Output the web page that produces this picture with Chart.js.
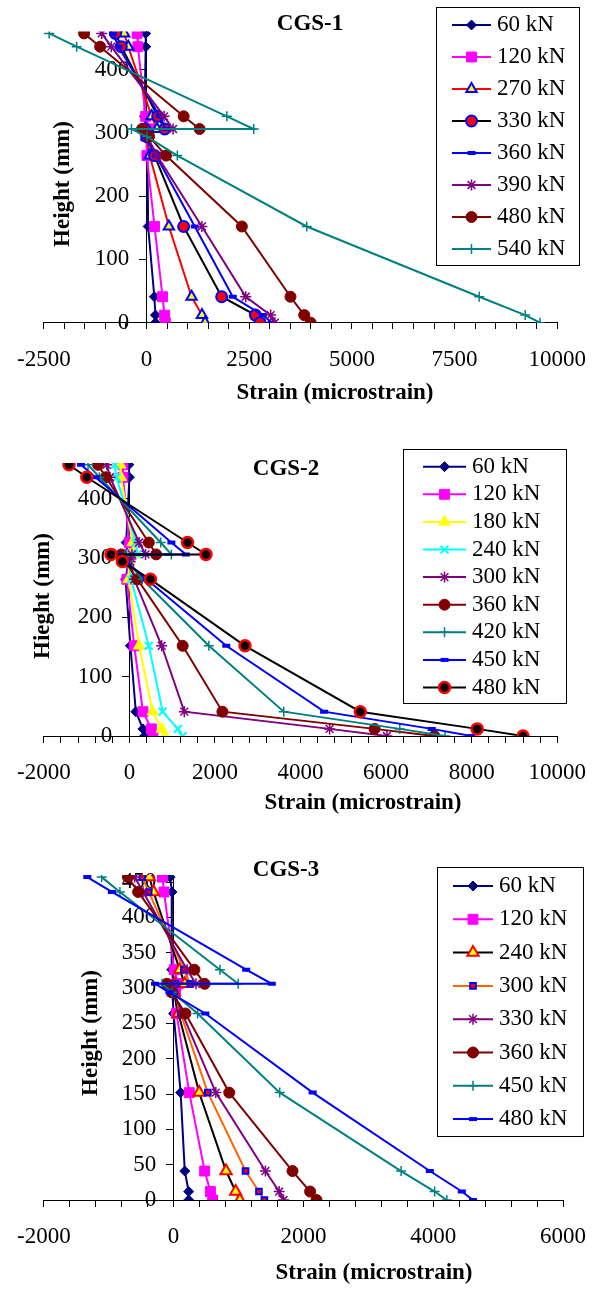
<!DOCTYPE html>
<html>
<head>
<meta charset="utf-8">
<title>CGS strain profiles</title>
<script src="https://cdn.jsdelivr.net/npm/chart.js@4.4.1/dist/chart.umd.min.js"></script>
<style>
  html, body { margin: 0; padding: 0; background: #fff; }
  body { position: relative; width: 603px; height: 1289px; overflow: hidden; }
  canvas { position: absolute; left: 0; }
</style>
</head>
<body>
<canvas id="cgs1" width="603" height="420" style="top:0px"></canvas>
<canvas id="cgs2" width="603" height="420" style="top:425px"></canvas>
<canvas id="cgs3" width="603" height="439" style="top:850px"></canvas>
<script>
// gauge heights (mm) in the order the points are joined
const heights = [457, 436, 326, 306, 306, 294, 264, 152, 41, 12, 0];
const yTicks12 = [0, 100, 200, 300, 400];
const yTicks3 = [0, 50, 100, 150, 200, 250, 300, 350, 400, 450];

// CGS-1
const loads1 = ['60 kN', '120 kN', '270 kN', '330 kN', '360 kN', '390 kN', '480 kN', '540 kN'];
const c1_60  = [-20, -20, -50, 0, 0, 0, 20, 40, 190, 218, 218];
const c1_120 = [-230, -210, -20, 60, 10, 0, 10, 195, 390, 440, 460];
const c1_270 = [-545, -444, 125, 257, -20, 0, 78, 545, 1098, 1350, 1425];
const c1_330 = [-755, -615, 273, 444, -40, 10, 195, 904, 1830, 2650, 2765];
const c1_360 = [-818, -680, 320, 470, -60, -50, 230, 1176, 2100, 2830, 3050];
const c1_390 = [-1090, -857, 428, 646, -30, 20, 257, 1348, 2415, 3022, 3124];
const c1_480 = [-1519, -1130, 904, 1293, -109, 62, 475, 2321, 3505, 3840, 3996];
const c1_540 = [-2370, -1700, 1955, 2610, -366, 8, 750, 3900, 8100, 9220, 9580];
const xLabels1 = [-2500, 0, 2500, 5000, 7500, 10000];

// CGS-2
const loads2 = ['60 kN', '120 kN', '180 kN', '240 kN', '300 kN', '360 kN', '420 kN', '450 kN', '480 kN'];
const c2_60  = [-15, 0, -75, -40, -30, -20, -90, 23, 150, 317, 355];
const c2_120 = [-150, -150, 0, 40, 0, -10, -60, 113, 317, 513, 551];
const c2_180 = [-211, -200, 75, 110, 20, 0, -20, 226, 543, 755, 830];
const c2_240 = [-340, -302, 150, 189, 40, 10, 40, 453, 777, 1132, 1245];
const c2_300 = [-528, -453, 226, 377, 60, 20, 113, 755, 1283, 4680, 6018];
const c2_360 = [-732, -551, 453, 626, -189, -100, 189, 1245, 2174, 5731, 7127];
const c2_420 = [-966, -700, 732, 981, -100, -40, 302, 1857, 3608, 6320, 7376];
const c2_450 = [-1131, -792, 981, 1321, -250, -80, 400, 2264, 4551, 7066, 7994];
const c2_480 = [-1411, -996, 1358, 1789, -430, -166, 490, 2702, 5396, 8130, 9200];
const xLabels2 = [-2000, 0, 2000, 4000, 6000, 8000, 10000];

// CGS-3
const loads3 = ['60 kN', '120 kN', '240 kN', '300 kN', '330 kN', '360 kN', '450 kN', '480 kN'];
const c3_60  = [-54, -25, -30, 0, -10, -20, 0, 108, 172, 232, 232];
const c3_120 = [-172, -148, 10, 69, 40, 30, 44, 241, 478, 567, 601];
const c3_240 = [-374, -310, 94, 172, 20, 0, 74, 394, 808, 956, 1020];
const c3_300 = [-483, -384, 158, 256, 30, 10, 108, 527, 1108, 1315, 1399];
const c3_330 = [-600, -470, 207, 345, 0, 0, 133, 650, 1414, 1626, 1694];
const c3_360 = [-704, -547, 320, 478, -103, -30, 182, 857, 1832, 2103, 2202];
const c3_450 = [-1108, -828, 714, 995, -177, -25, 369, 1635, 3505, 4022, 4210];
const c3_480 = [-1330, -951, 1118, 1512, -286, -64, 488, 2143, 3948, 4441, 4613];
const xLabels3 = [-2000, 0, 2000, 4000, 6000];

// marker / line styles
const navyDiamond = {line: '#000080', marker: 'rectRot', r: 5, fill: '#000080', edge: '#000080', bw: 1};
const pinkSquare  = {line: '#FF00FF', marker: 'rect', r: 7, fill: '#FF00FF', edge: '#FF00FF', bw: 1};
const redTriangle = {line: '#FF0000', marker: 'triangle', r: 6, fill: '#FFFF00', edge: '#0000FF', bw: 2};
const blackRedDot = {line: '#000000', marker: 'circle', r: 5.5, fill: '#FF0000', edge: '#0000FF', bw: 2};
const blueDash    = {line: '#0000FF', marker: 'line', r: 4, fill: '#0000FF', edge: '#0000FF', bw: 4};
const purpleStar  = {line: '#800080', marker: 'star', r: 5.5, fill: '#800080', edge: '#800080', bw: 1.5};
const brownDot    = {line: '#800000', marker: 'circle', r: 5.5, fill: '#800000', edge: '#800000', bw: 1};
const tealCross   = {line: '#008080', marker: 'cross', r: 5, fill: '#008080', edge: '#008080', bw: 1.5};
const yellowTri   = {line: '#FFFF00', marker: 'triangle', r: 6.5, fill: '#FFFF00', edge: '#FFFF00', bw: 1};
const cyanX       = {line: '#00FFFF', marker: 'crossRot', r: 5.5, fill: '#00FFFF', edge: '#00FFFF', bw: 2};
const blackDot    = {line: '#000000', marker: 'circle', r: 5.5, fill: '#000000', edge: '#FF0000', bw: 2.5};
const blackTri    = {line: '#000000', marker: 'triangle', r: 6.5, fill: '#FFFF00', edge: '#FF0000', bw: 2};
const orangeSq    = {line: '#FF6600', marker: 'rect', r: 4, fill: '#FF0000', edge: '#0000FF', bw: 2};

Chart.defaults.font.family = '"Liberation Serif", "Times New Roman", serif';
Chart.defaults.font.size = 23;
Chart.defaults.color = '#000';

const serif = '"Liberation Serif", "Times New Roman", serif';

// titles, axis titles and the boxed legend sit inside the plot like in Excel
const panelText = {
  id: 'panelText',
  afterDraw(chart, args, o) {
    const ctx = chart.ctx;
    const dy = o.top;
    ctx.save();
    ctx.fillStyle = '#000';
    ctx.textAlign = 'center';
    ctx.textBaseline = 'middle';
    ctx.font = 'bold 23px ' + serif;
    ctx.fillText(o.title, o.titleAt[0], o.titleAt[1] - dy);
    ctx.fillText('Strain (microstrain)', o.xTitleAt[0], o.xTitleAt[1] - dy);
    ctx.save();
    ctx.translate(o.yTitleAt[0], o.yTitleAt[1] - dy);
    ctx.rotate(-Math.PI / 2);
    ctx.fillText(o.yTitle, 0, 0);
    ctx.restore();

    const L = o.legend;
    ctx.strokeStyle = '#000';
    ctx.lineWidth = 1;
    ctx.strokeRect(Math.round(L.x) + 0.5, Math.round(L.y - dy) + 0.5, Math.round(L.w), Math.round(L.h));
    ctx.font = '23px ' + serif;
    ctx.textAlign = 'left';
    chart.data.datasets.forEach((ds, i) => {
      const y = L.first + i * L.step - dy;
      ctx.strokeStyle = ds.borderColor;
      ctx.lineWidth = ds.borderWidth;
      ctx.beginPath();
      ctx.moveTo(L.x1, y);
      ctx.lineTo(L.x2, y);
      ctx.stroke();
      ctx.fillStyle = ds.pointBackgroundColor;
      ctx.strokeStyle = ds.pointBorderColor;
      ctx.lineWidth = ds.pointBorderWidth;
      Chart.helpers.drawPoint(ctx, {
        pointStyle: ds.pointStyle, radius: ds.pointRadius, rotation: 0, borderWidth: ds.pointBorderWidth
      }, (L.x1 + L.x2) / 2, y);
      ctx.fillStyle = '#000';
      ctx.fillText(ds.label, L.tx, y);
    });
    ctx.restore();
  }
};

function makePanel(id, cfg) {
  const datasets = cfg.series.map((vals, i) => {
    const st = cfg.styles[i];
    return {
      label: cfg.loads[i],
      data: vals.map((v, k) => ({x: v, y: heights[k]})),
      showLine: true,
      borderColor: st.line,
      borderWidth: 2,
      pointStyle: st.marker,
      pointRadius: st.r,
      pointBackgroundColor: st.fill,
      pointBorderColor: st.edge,
      pointBorderWidth: st.bw,
      order: -i
    };
  });

  const xTickValues = [];
  for (let v = cfg.xMin; v <= cfg.xMax; v += cfg.xMinor) xTickValues.push(v);

  new Chart(document.getElementById(id), {
    type: 'scatter',
    data: { datasets: datasets },
    options: {
      responsive: false,
      animation: false,
      events: [],
      layout: { padding: cfg.padding },
      plugins: {
        legend: { display: false },
        tooltip: { enabled: false },
        panelText: cfg.text
      },
      scales: {
        x: {
          type: 'linear',
          min: cfg.xMin,
          max: cfg.xMax,
          position: { y: 0 },
          grid: { drawOnChartArea: false, drawTicks: true, tickLength: 6, tickColor: '#000' },
          border: { color: '#000', width: 1 },
          afterBuildTicks: s => { s.ticks = xTickValues.map(v => ({ value: v })); },
          ticks: {
            autoSkip: false, maxRotation: 0, padding: 17, color: '#000',
            callback: v => cfg.xLabels.includes(v) ? String(v) : ''
          }
        },
        y: {
          type: 'linear',
          min: 0,
          max: 460,
          position: { x: 0 },
          grid: { drawOnChartArea: false, drawTicks: true, tickLength: 7, tickColor: '#000' },
          border: { color: '#000', width: 1 },
          afterBuildTicks: s => { s.ticks = cfg.yTicks.map(v => ({ value: v })); },
          // labels of an axis placed at x = 0 ignore padding, so keep them off the line with spaces
          ticks: { autoSkip: false, color: '#000', callback: v => v + '   ' }
        }
      }
    },
    plugins: [panelText]
  });
}

makePanel('cgs1', {
  loads: loads1,
  series: [c1_60, c1_120, c1_270, c1_330, c1_360, c1_390, c1_480, c1_540],
  styles: [navyDiamond, pinkSquare, redTriangle, blackRedDot, blueDash, purpleStar, brownDot, tealCross],
  xMin: -2500, xMax: 10000, xMinor: 500, xLabels: xLabels1, yTicks: yTicks12,
  padding: { left: 35, right: 30, top: 31.5, bottom: 97.3 },
  text: {
    top: 0, title: 'CGS-1', titleAt: [310, 24], xTitleAt: [335, 393],
    yTitle: 'Height (mm)', yTitleAt: [63, 184],
    legend: { x: 436, y: 7, w: 143, h: 258, first: 25, step: 32, x1: 452, x2: 491, tx: 497 }
  }
});

makePanel('cgs2', {
  loads: loads2,
  series: [c2_60, c2_120, c2_180, c2_240, c2_300, c2_360, c2_420, c2_450, c2_480],
  styles: [navyDiamond, pinkSquare, yellowTri, cyanX, purpleStar, brownDot, tealCross, blueDash, blackDot],
  xMin: -2000, xMax: 10000, xMinor: 400, xLabels: xLabels2, yTicks: yTicks12,
  padding: { left: 41.7, right: 31.3, top: 38, bottom: 109 },
  text: {
    top: 425, title: 'CGS-2', titleAt: [286, 469], xTitleAt: [363, 803],
    yTitle: 'Hieght (mm)', yTitleAt: [43, 596],
    legend: { x: 403, y: 449, w: 163, h: 254, first: 466.7, step: 27.6, x1: 423, x2: 466, tx: 472 }
  }
});

makePanel('cgs3', {
  loads: loads3,
  series: [c3_60, c3_120, c3_240, c3_300, c3_330, c3_360, c3_450, c3_480],
  styles: [navyDiamond, pinkSquare, blackTri, orangeSq, purpleStar, brownDot, tealCross, blueDash],
  xMin: -2000, xMax: 6000, xMinor: 400, xLabels: xLabels3, yTicks: yTicks3,
  padding: { left: 35.7, right: 26, top: 25, bottom: 89 },
  text: {
    top: 850, title: 'CGS-3', titleAt: [286, 870], xTitleAt: [374, 1273],
    yTitle: 'Height (mm)', yTitleAt: [91, 1033],
    legend: { x: 437, y: 867, w: 146, h: 269, first: 886, step: 33.3, x1: 453, x2: 493, tx: 499 }
  }
});
</script>
</body>
</html>
